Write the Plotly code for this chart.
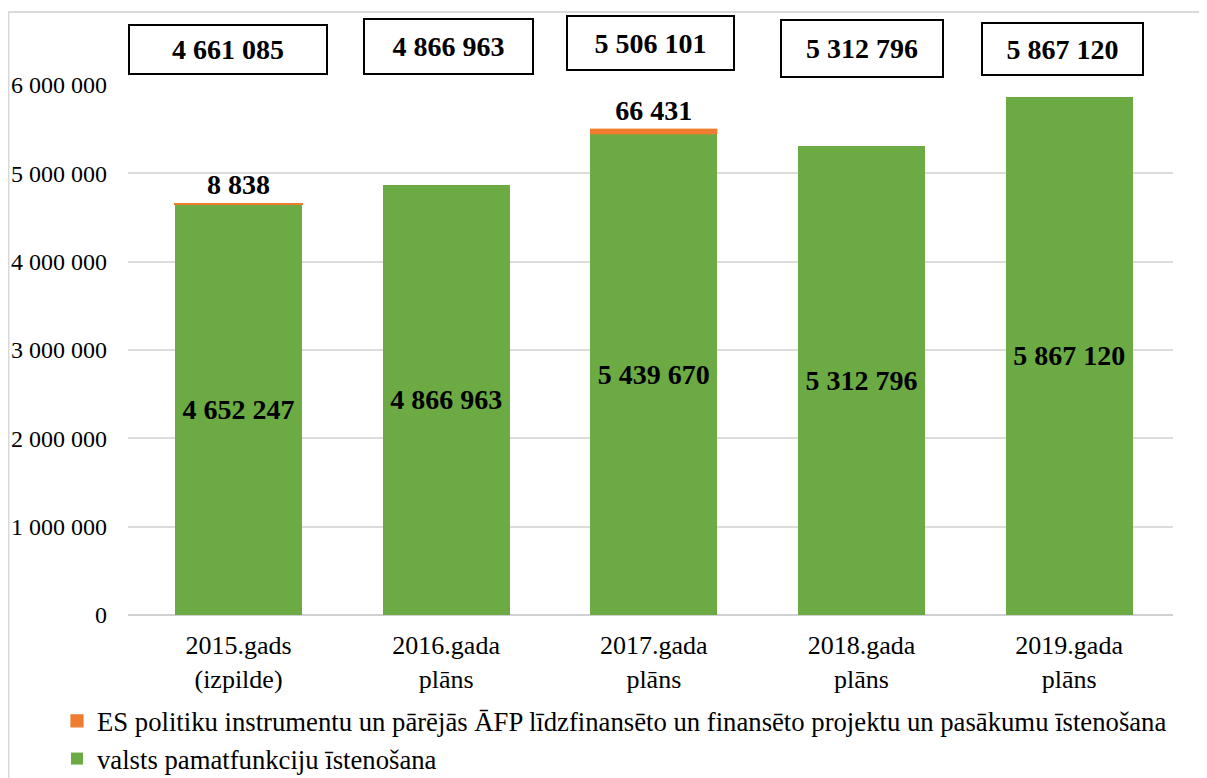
import plotly.graph_objects as go

categories = ["2015.gads<br>(izpilde)", "2016.gada<br>plāns", "2017.gada<br>plāns",
              "2018.gada<br>plāns", "2019.gada<br>plāns"]
green_vals = [4652247, 4866963, 5439670, 5312796, 5867120]
orange_vals = [8838, None, 66431, None, None]
green_name = "valsts pamatfunkciju īstenošana"
orange_name = "ES politiku instrumentu un pārējās ĀFP līdzfinansēto un finansēto projektu un pasākumu īstenošana"
y_ticks = [0, 1000000, 2000000, 3000000, 4000000, 5000000, 6000000]

# box layout (page-pixel style info for the total boxes)
box_xshift = [-10.5, 2.5, -3, 0.5, -7]
box_cy = [49.5, 46.5, 43, 48.5, 49]
box_w = [200, 171, 169, 164, 163]
box_h = [51, 57, 56, 59, 54]


def fmt(v):
    return f"{v:,}".replace(",", " ")


totals = [g + (o or 0) for g, o in zip(green_vals, orange_vals)]

OFF = 8  # page body margin
W, H = 1207 - OFF, 778 - OFF
plot_left, plot_right, plot_top, plot_bottom = 128 - OFF, 1173 - OFF, 84 - OFF, 615 - OFF
ML, MR, MT, MB = plot_left, W - plot_right, plot_top, H - plot_bottom
plot_h = H - MT - MB
pw = W - ML - MR
SERIF = "Liberation Serif"


def py2paper(py):
    return (plot_bottom - (py - OFF)) / plot_h


def px2paper(px):
    return ((px - OFF) - plot_left) / pw


fig = go.Figure()
fig.add_trace(go.Bar(
    x=categories, y=green_vals, name=green_name,
    marker=dict(color="#6cab43", line=dict(width=0)),
    text=[fmt(v) for v in green_vals],
    textposition="inside", insidetextanchor="middle",
    textfont=dict(family=SERIF, size=28, color="black", weight="bold"),
    constraintext="none",
))
fig.add_trace(go.Bar(
    x=categories, y=orange_vals, name=orange_name,
    marker=dict(color="#ef7d2f", line=dict(width=[1.2, 0, 0.4, 0, 0], color="#ef7d2f")),
    text=[fmt(v) if v else "" for v in orange_vals],
    textposition="outside",
    textfont=dict(family=SERIF, size=28, color="black", weight="bold"),
    constraintext="none", cliponaxis=False,
))

annotations = []
for i, c in enumerate(categories):
    annotations.append(dict(
        x=c, xref="x", xshift=box_xshift[i],
        y=py2paper(box_cy[i]), yref="paper", yanchor="middle",
        text=fmt(totals[i]), showarrow=False,
        font=dict(family=SERIF, size=28, color="black", weight="bold"),
        bordercolor="black", borderwidth=2, borderpad=0, bgcolor="white",
        width=box_w[i] - 4, height=box_h[i] - 4,
    ))

shapes = [dict(
    type="rect", xref="paper", yref="paper",
    x0=px2paper(OFF + 0.5), x1=px2paper(1240),
    y0=py2paper(800), y1=py2paper(12),
    line=dict(color="#d9d9d9", width=2), fillcolor="rgba(0,0,0,0)", layer="below",
)]

fig.update_layout(
    width=W, height=H,
    margin=dict(l=ML, r=MR, t=MT, b=MB, pad=0, autoexpand=False),
    barmode="stack", bargap=0.388,
    plot_bgcolor="white", paper_bgcolor="white",
    font=dict(family=SERIF, color="black"),
    showlegend=True,
    legend=dict(
        orientation="v", x=px2paper(57), xanchor="left",
        y=py2paper(697), yanchor="top",
        font=dict(family=SERIF, size=26.7, color="black"),
        bgcolor="rgba(0,0,0,0)", tracegroupgap=0, itemwidth=30,
    ),
    xaxis=dict(
        tickfont=dict(family=SERIF, size=26, color="black"),
        showgrid=False, showline=False, ticks="", ticklabelstandoff=12,
        automargin=False,
    ),
    yaxis=dict(
        range=[0, 6010000], tickvals=y_ticks, ticktext=[fmt(v) for v in y_ticks],
        tickfont=dict(family=SERIF, size=24, color="black"),
        showgrid=True, gridcolor="#dcdcdc", gridwidth=1.5,
        zeroline=True, zerolinecolor="#d0d0d0", zerolinewidth=2,
        showline=False, ticks="", ticklabelstandoff=20, automargin=False,
    ),
    annotations=annotations,
    shapes=shapes,
)

fig.write_html("out.html")
